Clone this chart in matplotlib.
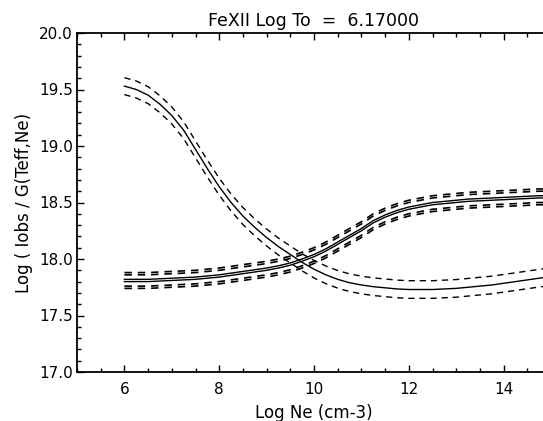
import numpy as np
import matplotlib
matplotlib.use("Agg")
import matplotlib.pyplot as plt
from matplotlib.ticker import MultipleLocator, FormatStrFormatter

# Data
log_ne = [6.00, 6.25, 6.50, 6.75, 7.00, 7.25, 7.50, 7.75, 8.00, 8.25, 8.50,
          8.75, 9.00, 9.25, 9.50, 9.75, 10.00, 10.25, 10.50, 10.75, 11.00,
          11.25, 11.50, 11.75, 12.00, 12.25, 12.50, 12.75, 13.00, 13.25,
          13.50, 13.75, 14.00, 14.25, 14.50, 14.75, 15.00]

# curve falling with density (solid) and its dashed error envelope
falling = [19.53, 19.50, 19.45, 19.37, 19.27, 19.14, 18.97, 18.80, 18.64,
           18.50, 18.38, 18.28, 18.19, 18.11, 18.04, 17.97, 17.91, 17.86,
           17.82, 17.79, 17.77, 17.755, 17.745, 17.735, 17.73, 17.73, 17.73,
           17.735, 17.74, 17.75, 17.76, 17.77, 17.785, 17.80, 17.815, 17.83,
           17.845]
falling_err = [0.075, 0.075, 0.075, 0.075, 0.075, 0.075, 0.075, 0.075, 0.075,
               0.075, 0.075, 0.075, 0.075, 0.075, 0.075, 0.075, 0.078, 0.078,
               0.078, 0.078, 0.078, 0.078, 0.078, 0.078, 0.078, 0.078, 0.078,
               0.078, 0.078, 0.078, 0.078, 0.078, 0.078, 0.078, 0.078, 0.078,
               0.078]

# pair of nearly identical curves rising with density, with dashed envelopes
rising_a = [17.82, 17.82, 17.82, 17.825, 17.83, 17.835, 17.84, 17.85, 17.86,
            17.875, 17.89, 17.905, 17.92, 17.94, 17.965, 18.00, 18.04, 18.09,
            18.15, 18.21, 18.27, 18.34, 18.39, 18.43, 18.46, 18.48, 18.50,
            18.51, 18.52, 18.53, 18.535, 18.54, 18.545, 18.55, 18.555, 18.56,
            18.56]
rising_b = [17.80, 17.80, 17.80, 17.805, 17.81, 17.815, 17.82, 17.83, 17.84,
            17.855, 17.87, 17.885, 17.90, 17.92, 17.945, 17.98, 18.02, 18.07,
            18.13, 18.19, 18.25, 18.32, 18.37, 18.41, 18.44, 18.46, 18.48,
            18.49, 18.50, 18.51, 18.515, 18.52, 18.525, 18.53, 18.535, 18.54,
            18.54]
rising_err = [0.06, 0.06, 0.06, 0.06, 0.06, 0.06, 0.06, 0.06, 0.06, 0.06,
              0.06, 0.06, 0.06, 0.06, 0.06, 0.06, 0.06, 0.06, 0.06, 0.06,
              0.06, 0.06, 0.06, 0.06, 0.06, 0.06, 0.06, 0.06, 0.06, 0.06,
              0.06, 0.06, 0.06, 0.06, 0.06, 0.06, 0.06]

title = "FeXII Log To  =  6.17000"
xlabel = "Log Ne (cm-3)"
ylabel = "Log ( Iobs / G(Teff,Ne)"

plt.rcParams['font.family'] = ['DejaVu Sans']

fig = plt.figure(figsize=(5.43, 4.21), dpi=100)
ax = fig.add_axes([77 / 543, 49 / 421, 474 / 543, 339 / 421])

x = np.array(log_ne)
f = np.array(falling)
fe = np.array(falling_err)
ra = np.array(rising_a)
rb = np.array(rising_b)
re = np.array(rising_err)

dash = (4.5, 3.5)
lw = 1.0
col = 'black'

ax.plot(x, f, color=col, lw=lw)
ax.plot(x, f + fe, color=col, lw=lw, dashes=dash)
ax.plot(x, f - fe, color=col, lw=lw, dashes=dash)

for r in (ra, rb):
    ax.plot(x, r, color=col, lw=lw)
    ax.plot(x, r + re, color=col, lw=lw * 1.2, dashes=dash)
    ax.plot(x, r - re, color=col, lw=lw * 1.2, dashes=dash)

ax.set_xlim(5, 15)
ax.set_ylim(17.0, 20.0)
ax.xaxis.set_major_locator(MultipleLocator(2))
ax.xaxis.set_minor_locator(MultipleLocator(0.5))
ax.yaxis.set_major_locator(MultipleLocator(0.5))
ax.yaxis.set_minor_locator(MultipleLocator(0.1))
ax.yaxis.set_major_formatter(FormatStrFormatter('%.1f'))

ax.tick_params(which='both', direction='in', top=True, right=True,
               labelsize=11, width=1.0)
ax.tick_params(which='major', length=5)
ax.tick_params(which='minor', length=3)
ax.tick_params(axis='x', pad=7)
ax.tick_params(axis='y', pad=3)
for s in ax.spines.values():
    s.set_linewidth(1.3)

ax.set_title(title, fontsize=12.5, pad=5)
ax.set_xlabel(xlabel, fontsize=12, labelpad=5)
ax.set_ylabel(ylabel, fontsize=12, labelpad=4)

fig.savefig("out.png", dpi=100)
